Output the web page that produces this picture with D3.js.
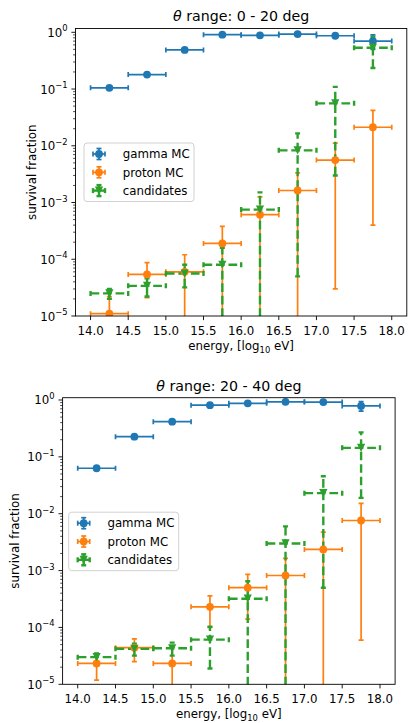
<!DOCTYPE html>
<html>
<head>
<meta charset="utf-8">
<script src="https://cdn.jsdelivr.net/npm/d3@7"></script>
<style>
  body { margin: 0; background: #fff; }
  svg { display: block; }
  text { font-family: "DejaVu Sans", sans-serif; fill: #000; }
</style>
</head>
<body>
<div id="chart"></div>
<script>
// energy bin centres [log10 eV], each bin is 0.5 wide
const energyBins = [14.25, 14.75, 15.25, 15.75, 16.25, 16.75, 17.25, 17.75];
const binHalfWidth = 0.25;
const xTicks = [14.0, 14.5, 15.0, 15.5, 16.0, 16.5, 17.0, 17.5, 18.0];
const yTickExps = [-5, -4, -3, -2, -1, 0];
const seriesNames = ["gamma MC", "proton MC", "candidates"];
const panelTitles = ["0 - 20 deg", "20 - 40 deg"];

// theta 0 - 20 deg
const gamma0 = [0.105, 0.18, 0.49, 0.91, 0.885, 0.93, 0.87, 0.70];
const gamma0Err = [0.006, 0.01, 0.02, 0.02, 0.02, 0.02, 0.03, 0.2];
const proton0 = [1.1e-5, 5.4e-5, 6.0e-5, 1.9e-4, 6.1e-4, 1.63e-3, 5.6e-3, 0.0212];
const proton0Err = [1.1e-5, 3.3e-5, 6.0e-5, 1.9e-4, 6.5e-4, 1.7e-3, 5.57e-3, 0.0208];
const cand0 = [2.5e-5, 3.4e-5, 5.6e-5, 8.0e-5, 7.5e-4, 8.3e-3, 0.056, 0.535];
const cand0Err = [0.5e-5, 1.2e-5, 2.4e-5, 8.0e-5, 7.6e-4, 8.25e-3, 0.053, 0.3];

// theta 20 - 40 deg
const gamma1 = [0.063, 0.226, 0.416, 0.81, 0.875, 0.93, 0.92, 0.785];
const gamma1Err = [0.004, 0.01, 0.015, 0.02, 0.02, 0.02, 0.03, 0.15];
const proton1 = [2.33e-5, 4.4e-5, 2.33e-5, 2.3e-4, 5.0e-4, 8.2e-4, 2.35e-3, 7.6e-3];
const proton1Err = [1.15e-5, 1.9e-5, 2.33e-5, 1.3e-4, 3.6e-4, 8.2e-4, 2.4e-3, 7.54e-3];
const cand1 = [3.0e-5, 4.2e-5, 4.3e-5, 6.1e-5, 3.2e-4, 3.0e-3, 0.023, 0.144];
const cand1Err = [0.5e-5, 1.0e-5, 1.1e-5, 4.2e-5, 3.3e-4, 3.0e-3, 0.0225, 0.125];

const colors = ["#1f77b4", "#ff7f0e", "#2ca02c"];
const styles = [
    {marker: "circle", lw: 1.7, dash: null},
    {marker: "circle", lw: 1.7, dash: null},
    {marker: "triangle", lw: 2.4, dash: "8.7,3.8"}
];

const W = 408, H = 723;
const svg = d3.select("#chart").append("svg")
    .attr("width", W)
    .attr("height", H);

// panel boxes in pixels
const panels = [
    {left: 75.5, right: 406.8, top: 28.5, bottom: 316, yMax: 1.167, ylabelX: 31.7, legendDx: 8.5,
        title: panelTitles[0], values: [gamma0, proton0, cand0], errors: [gamma0Err, proton0Err, cand0Err]},
    {left: 62.6, right: 395.1, top: 397.7, bottom: 684.3, yMax: 1.097, ylabelX: 15, legendDx: 6.1,
        title: panelTitles[1], values: [gamma1, proton1, cand1], errors: [gamma1Err, proton1Err, cand1Err]}
];

function drawMarker(sel, kind, cx, cy, color) {
    if (kind === "circle") {
        sel.append("circle")
            .attr("cx", cx).attr("cy", cy).attr("r", 3.9)
            .attr("fill", color);
    } else {
        let s = 4.1;
        sel.append("path")
            .attr("d", `M${cx - s},${cy - s}L${cx + s},${cy - s}L${cx},${cy + s}Z`)
            .attr("fill", color);
    }
}

function sup10(sel, exp) {
    sel.append("tspan").text("10");
    sel.append("tspan")
        .attr("dy", -5.5)
        .attr("font-size", "8.4px")
        .text(exp < 0 ? "\u2212" + (-exp) : exp);
}

panels.forEach(function(p, pi) {
    let g = svg.append("g");

    let x = d3.scaleLinear().domain([13.8, 18.2]).range([p.left, p.right]);
    let y = d3.scaleLog().domain([1e-5, p.yMax]).range([p.bottom, p.top]);

    let clipId = "clip" + pi;
    svg.append("clipPath").attr("id", clipId)
        .append("rect")
        .attr("x", p.left).attr("y", p.top)
        .attr("width", p.right - p.left).attr("height", p.bottom - p.top);

    // x ticks
    let xa = g.append("g");
    xTicks.forEach(function(t) {
        xa.append("line")
            .attr("x1", x(t)).attr("x2", x(t))
            .attr("y1", p.bottom).attr("y2", p.bottom + 4.1)
            .attr("stroke", "#000").attr("stroke-width", 0.9);
        xa.append("text")
            .attr("x", x(t)).attr("y", p.bottom + 18.5)
            .attr("text-anchor", "middle")
            .attr("font-size", "11.8px")
            .text(t.toFixed(1));
    });

    // y ticks (log, with minor ticks)
    let ya = g.append("g");
    yTickExps.forEach(function(e) {
        let v = Math.pow(10, e);
        ya.append("line")
            .attr("x1", p.left - 4.1).attr("x2", p.left)
            .attr("y1", y(v)).attr("y2", y(v))
            .attr("stroke", "#000").attr("stroke-width", 0.9);
        let lbl = ya.append("text")
            .attr("x", p.left - 8).attr("y", y(v) + 4.5)
            .attr("text-anchor", "end")
            .attr("font-size", "11.8px");
        sup10(lbl, e);
        if (e < 0) {
            for (let m = 2; m <= 9; m++) {
                let mv = m * v;
                if (mv > p.yMax) continue;
                ya.append("line")
                    .attr("x1", p.left - 2.4).attr("x2", p.left)
                    .attr("y1", y(mv)).attr("y2", y(mv))
                    .attr("stroke", "#000").attr("stroke-width", 0.7);
            }
        }
    });

    // marks
    let marks = g.append("g").attr("clip-path", `url(#${clipId})`);
    let bars = marks.append("g");
    let dots = marks.append("g");
    let capH = 2.5;

    p.values.forEach(function(vals, si) {
        let col = colors[si], st = styles[si];
        let errs = p.errors[si];
        energyBins.forEach(function(c, i) {
            let v = vals[i], e = errs[i];
            let lo = v - e > 0 ? v - e : 1e-7;
            let yv = y(v);
            let xl = x(c - binHalfWidth), xr = x(c + binHalfWidth);
            bars.append("line")
                .attr("x1", xl).attr("x2", xr).attr("y1", yv).attr("y2", yv)
                .attr("stroke", col).attr("stroke-width", st.lw)
                .attr("stroke-dasharray", st.dash);
            bars.append("line")
                .attr("x1", x(c)).attr("x2", x(c)).attr("y1", y(lo)).attr("y2", y(v + e))
                .attr("stroke", col).attr("stroke-width", st.lw)
                .attr("stroke-dasharray", st.dash);
            // caps
            [xl, xr].forEach(function(cx) {
                bars.append("line")
                    .attr("x1", cx).attr("x2", cx).attr("y1", yv - capH).attr("y2", yv + capH)
                    .attr("stroke", col).attr("stroke-width", st.lw);
            });
            [y(lo), y(v + e)].forEach(function(cy) {
                bars.append("line")
                    .attr("x1", x(c) - capH).attr("x2", x(c) + capH).attr("y1", cy).attr("y2", cy)
                    .attr("stroke", col).attr("stroke-width", st.lw);
            });
            drawMarker(dots, st.marker, x(c), yv, col);
        });
    });

    // frame
    g.append("rect")
        .attr("x", p.left).attr("y", p.top)
        .attr("width", p.right - p.left).attr("height", p.bottom - p.top)
        .attr("fill", "none").attr("stroke", "#000").attr("stroke-width", 0.9);

    // title
    let tt = g.append("text")
        .attr("x", (p.left + p.right) / 2).attr("y", p.top - 7.2)
        .attr("text-anchor", "middle")
        .attr("font-size", "14.2px");
    tt.append("tspan").attr("font-style", "italic").text("\u03b8");
    tt.append("tspan").text(" range: " + p.title);

    // axis labels
    let xl = g.append("text")
        .attr("x", (p.left + p.right) / 2).attr("y", p.bottom + 34)
        .attr("text-anchor", "middle")
        .attr("font-size", "11.8px");
    xl.append("tspan").text("energy, [log");
    xl.append("tspan").attr("dy", 2.5).attr("font-size", "8.4px").text("10");
    xl.append("tspan").attr("dy", -2.5).text(" eV]");

    g.append("text")
        .attr("transform", `translate(${p.ylabelX},${(p.top + p.bottom) / 2}) rotate(-90)`)
        .attr("text-anchor", "middle")
        .attr("dominant-baseline", "central")
        .attr("font-size", "11.8px")
        .text("survival fraction");

    // legend
    let lx = p.left + p.legendDx, ly = p.top + 114.5;
    let lg = g.append("g").attr("transform", `translate(${lx},${ly})`);
    lg.append("rect")
        .attr("width", 110).attr("height", 58.5)
        .attr("rx", 3)
        .attr("fill", "#fff").attr("fill-opacity", 0.8)
        .attr("stroke", "#cccccc").attr("stroke-width", 0.9);
    seriesNames.forEach(function(name, si) {
        let cy = 11 + si * 18.3, cx = 15;
        let col = colors[si], st = styles[si];
        lg.append("line").attr("x1", cx - 6).attr("x2", cx + 6).attr("y1", cy).attr("y2", cy)
            .attr("stroke", col).attr("stroke-width", st.lw);
        lg.append("line").attr("x1", cx).attr("x2", cx).attr("y1", cy - 5.5).attr("y2", cy + 5.5)
            .attr("stroke", col).attr("stroke-width", st.lw);
        [cx - 6, cx + 6].forEach(function(u) {
            lg.append("line").attr("x1", u).attr("x2", u).attr("y1", cy - capH).attr("y2", cy + capH)
                .attr("stroke", col).attr("stroke-width", st.lw);
        });
        [cy - 5.5, cy + 5.5].forEach(function(u) {
            lg.append("line").attr("x1", cx - capH).attr("x2", cx + capH).attr("y1", u).attr("y2", u)
                .attr("stroke", col).attr("stroke-width", st.lw);
        });
        drawMarker(lg, st.marker, cx, cy, col);
        lg.append("text")
            .attr("x", 38.7).attr("y", cy + 4.3)
            .attr("font-size", "11.8px")
            .text(name);
    });
});
</script>
</body>
</html>
